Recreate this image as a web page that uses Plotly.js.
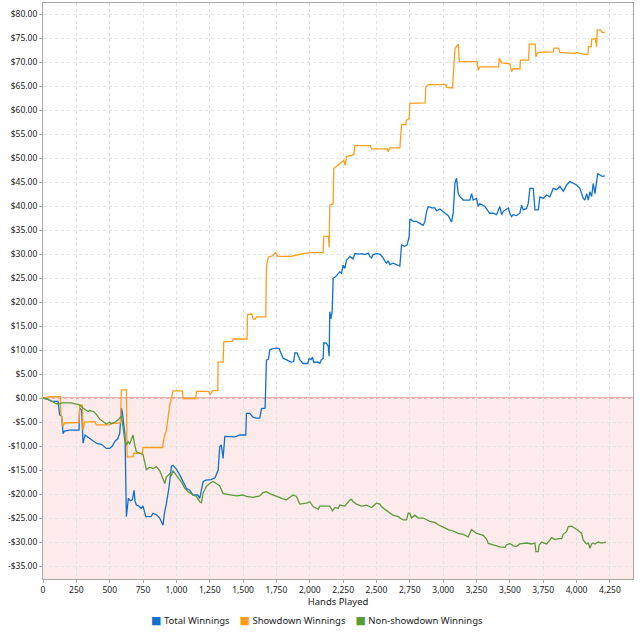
<!DOCTYPE html>
<html>
<head>
<meta charset="utf-8">
<script src="https://cdn.plot.ly/plotly-3.0.1.min.js"></script>
<style>
  html, body { margin: 0; padding: 0; background: #fff; }
  #chart { width: 640px; height: 637px; }
</style>
</head>
<body>
<div id="chart"></div>
<script>
// values (hands played -> cumulative $)
const seriesNames = ['Total Winnings', 'Showdown Winnings', 'Non-showdown Winnings']
const seriesColors = ['#1070d0', '#ff9e1b', '#5b9a3b']

const totalHands = [0,30,63,113,125,140,150,160,200,270,275,290,300,315,330,360,400,440,475,500,520,540,560,575,588,595,605,615,625,640,655,670,683,690,700,720,735,750,770,810,825,850,875,900,910,925,945,955,963,975,1000,1025,1050,1075,1100,1125,1160,1175,1200,1220,1260,1290,1313,1325,1337,1350,1363,1400,1440,1475,1520,1525,1550,1575,1600,1625,1638,1665,1675,1690,1700,1720,1750,1770,1800,1830,1860,1880,1888,1905,1925,1950,1985,1995,2010,2020,2030,2060,2075,2085,2100,2105,2125,2138,2145,2150,2158,2168,2175,2190,2213,2225,2238,2250,2263,2275,2288,2300,2325,2338,2363,2388,2413,2438,2450,2463,2475,2500,2525,2550,2563,2575,2588,2600,2625,2650,2675,2688,2710,2730,2745,2750,2760,2775,2800,2825,2850,2862,2875,2888,2913,2938,2950,2975,3000,3038,3063,3075,3088,3100,3113,3125,3150,3200,3213,3225,3250,3263,3275,3313,3338,3350,3375,3400,3425,3438,3450,3475,3488,3500,3513,3525,3550,3575,3588,3600,3625,3638,3650,3675,3688,3713,3725,3750,3775,3800,3825,3850,3875,3900,3925,3950,3975,4000,4025,4038,4050,4063,4075,4088,4100,4113,4125,4138,4150,4158,4175,4190,4213]
const totalWin = [0,-0.2,-0.7,-0.7,-3.5,-3.8,-7.4,-6.9,-6.7,-6.7,-2.1,-2.5,-9.4,-7.7,-8,-8.6,-9.4,-9.7,-10.5,-10.5,-10,-9,-8.5,-7.4,-2.1,-3,-6.3,-7.8,-24.7,-20.9,-21.4,-21.2,-19.2,-21.5,-22.3,-22.5,-23,-22.5,-24.7,-24.7,-24,-24.3,-25,-26.5,-24,-22,-18.5,-16.5,-14.2,-14,-14.8,-16,-17.3,-18.8,-19.2,-20.2,-20.2,-20.9,-17.4,-17.1,-17,-16.6,-15,-10.1,-9.8,-12.6,-8,-8.1,-8.1,-7.7,-7.7,-3.2,-3.2,-4,-4.2,-4.2,-2.2,-2.1,7.9,8.1,10,10.3,10.4,10.3,8.3,7.9,7.5,7.6,9.4,9.4,8,7.2,7.2,8.2,8,8.5,7.4,7.5,7.2,7.9,8.3,11.5,11.4,10.8,8.7,18,16.5,18,24.9,25.2,26,26.3,26,27.7,27,28.75,29.1,29.5,29,30.1,30,30.1,29.9,30.2,29.5,29.2,29.9,30.1,30,29.2,28.5,28.1,28.6,27.8,28.1,27.8,27.5,31.9,31.6,31.9,33.6,37.2,37.2,36.8,36.8,36.4,36,36.7,38.8,39.9,39.6,39.6,39,39.4,38.8,38,36.7,38.5,44.7,45.8,42.6,42,41.25,41.25,42.6,41.25,41.6,39.9,40.5,39.9,38.9,38.5,38.5,38.2,39.9,38.2,38.9,39.3,39.6,38.5,37.8,38.2,38,38.5,40.2,39.2,39.5,40.6,43.7,43.7,39.2,39.2,41.9,41.6,42.3,41.9,43.7,43.4,44.1,43.1,44.4,45.1,44.7,44.4,43.7,42.6,41.6,41.25,42.6,41.25,43,42,44.7,42.6,44.7,46.7,46.5,46.2,46.3]

const showdownHands = [0,50,130,133,150,160,270,275,295,300,310,390,400,500,510,580,588,625,630,675,680,745,750,895,910,925,950,975,1045,1050,1145,1150,1240,1255,1270,1310,1313,1350,1355,1420,1425,1530,1533,1565,1575,1590,1600,1670,1675,1690,1720,1745,1760,1860,1900,2000,2100,2105,2140,2145,2150,2175,2180,2210,2240,2255,2265,2275,2330,2338,2455,2463,2580,2588,2600,2675,2688,2720,2725,2745,2750,2865,2870,2890,3020,3025,3070,3075,3088,3113,3120,3255,3263,3275,3415,3420,3440,3500,3513,3525,3575,3580,3640,3645,3690,3695,3710,3825,3830,3865,3875,3985,4000,4060,4085,4088,4110,4113,4140,4150,4155,4180,4190,4213]
const showdownWin = [0,0.3,0.3,-2.8,-6,-5.2,-5.1,-1.5,-1.5,-6.7,-5,-4.9,-5.6,-5.6,-5.3,-5.2,1.7,1.7,-12.3,-12.2,-11.5,-11.5,-10.3,-10.3,-8,-6.7,-1.5,1.5,1.5,-0.1,-0.1,1.4,1.4,0.8,1.5,1.6,7.5,7.5,11.7,11.8,12.3,12.3,17.4,17.5,16.5,16.4,16.9,16.9,27.4,29.4,29.6,30.3,29.5,29.5,29.8,30.3,30.3,33.7,33.7,31.4,40.2,40.5,47.8,48.5,49,49.5,48.5,50.3,50.7,52.6,52.6,51.9,51.9,51.3,52.1,52.1,56.9,57,57.9,58.2,61.4,61.5,64.9,65.3,65.3,64.7,64.6,66.4,72.8,73.75,70.1,70.1,68.3,69,69,70.8,69.8,69.6,68,68.6,68.6,70.4,70.4,73.75,73.75,71.1,72,72.1,72.9,72.9,72,71.8,72,71.6,71.6,73.2,73.2,74.7,74.9,73.2,76.7,76.7,76.2,76.2]

const nonSdHands = [0,40,75,100,125,140,210,240,275,300,320,338,350,380,400,425,450,475,500,510,540,563,588,600,613,625,638,650,663,675,688,700,725,750,775,800,825,850,875,900,913,925,950,963,975,1000,1038,1063,1088,1125,1150,1175,1188,1200,1213,1225,1250,1275,1300,1325,1350,1400,1450,1500,1525,1575,1625,1650,1675,1700,1750,1800,1825,1875,1900,1925,1975,2000,2025,2063,2075,2150,2170,2190,2213,2225,2263,2300,2313,2325,2350,2388,2425,2463,2475,2500,2525,2538,2563,2600,2625,2663,2700,2725,2738,2750,2763,2788,2813,2850,2875,2900,2938,2963,3000,3038,3075,3113,3150,3188,3213,3225,3250,3275,3300,3325,3338,3375,3425,3463,3475,3500,3525,3550,3575,3625,3663,3688,3695,3713,3720,3738,3775,3800,3813,3838,3863,3888,3900,3925,3938,3963,3988,4013,4038,4050,4075,4088,4100,4113,4125,4138,4163,4188,4220]
const nonSdWin = [0,-0.3,-0.8,-1.2,-1.2,-1,-1,-1.2,-1.4,-2.1,-2.4,-2.8,-2.6,-2.8,-3.4,-4.4,-4.9,-5.4,-5,-5.4,-5,-4.6,-3.7,-6.2,-8.75,-9.8,-9.1,-9.5,-8.4,-7.7,-9.8,-11.2,-11.5,-11.8,-14.9,-14.4,-14.7,-14.3,-15.1,-17.1,-17.8,-16.4,-15.8,-16.1,-15.1,-16.1,-17.5,-18.8,-19.5,-20.2,-20.5,-21.6,-21.8,-19.8,-19,-18.4,-17.8,-17.4,-17.8,-18.3,-19.9,-20.2,-20.4,-20.2,-20.5,-20.7,-20.4,-19.7,-19.5,-19.9,-20.5,-21,-21.2,-20.2,-20.5,-22.1,-21.9,-21.6,-22.6,-23.2,-22.5,-22.5,-23.5,-22.8,-23,-22.3,-22.5,-21.25,-21.1,-21.6,-22.1,-22.5,-22.3,-22.8,-22.5,-21.9,-22.1,-22.6,-23.2,-23.9,-24.4,-24.7,-25.4,-25.4,-24,-24,-25,-24.4,-25,-25,-25.4,-25.7,-25.9,-26.4,-26.9,-27.4,-27.7,-28.2,-28.4,-28.9,-27.4,-27.7,-28.2,-28.4,-28.6,-29.4,-30.3,-30.6,-31,-31.1,-30.6,-30.3,-30.8,-30.9,-30.4,-30.2,-30.4,-30.2,-32,-32,-30.6,-30,-30.4,-29.6,-29.1,-29.5,-29.3,-29.3,-28.4,-27.85,-26.8,-26.7,-27.1,-27.6,-28.2,-29.6,-30.4,-30.2,-31.3,-30.4,-30.2,-30.4,-30,-30.2,-30]

const yTickVals = [-35,-30,-25,-20,-15,-10,-5,0,5,10,15,20,25,30,35,40,45,50,55,60,65,70,75,80]
const xTickVals = [0,250,500,750,1000,1250,1500,1750,2000,2250,2500,2750,3000,3250,3500,3750,4000,4250]
const yRange = [-37.7, 82.3]
const xRange = [0, 4423]

const FONT = 'Noto Sans, DejaVu Sans, sans-serif'

function money(v) {
    return (v < 0 ? '-$' : '$') + Math.abs(v).toFixed(2)
}

const allX = [totalHands, showdownHands, nonSdHands]
const allY = [totalWin, showdownWin, nonSdWin]

let data = []
for (let i = 0; i < 3; i++) {
    data.push({
        x: allX[i], y: allY[i],
        name: seriesNames[i],
        type: 'scatter', mode: 'lines',
        line: { color: seriesColors[i], width: 1.3 },
        showlegend: false,
        hoverinfo: 'skip'
    })
}

// legend row: coloured square + name, kept tight like the original
const legendText = seriesNames.map((name, i) =>
    '<span style="color:' + seriesColors[i] + ';font-size:11px;font-family:DejaVu Sans">\u25A0</span> ' + name
).join('\u00a0\u00a0\u00a0\u00a0')

const axisCommon = {
    showline: true, linecolor: '#a8a8a8', linewidth: 1, mirror: true,
    gridcolor: '#e2e2e2', griddash: 'dot', gridwidth: 1,
    ticks: 'outside', ticklen: 3, tickcolor: '#a8a8a8',
    zeroline: false,
    tickfont: { family: FONT, size: 8.5, color: '#222' }
}

const layout = {
    width: 640, height: 637,
    margin: { l: 43, r: 7, t: 3, b: 58 },
    paper_bgcolor: '#fff', plot_bgcolor: '#fff',
    font: { family: FONT, color: '#222' },
    showlegend: false,
    xaxis: Object.assign({}, axisCommon, {
        range: xRange,
        tickvals: xTickVals,
        tickformat: ',d',
        title: { text: 'Hands Played', font: { family: FONT, size: 9.5, color: '#222' }, standoff: 4 }
    }),
    yaxis: Object.assign({}, axisCommon, {
        range: yRange,
        tickvals: yTickVals,
        ticktext: yTickVals.map(money)
    }),
    shapes: [
        { type: 'rect', layer: 'below', xref: 'paper', x0: 0, x1: 1, yref: 'y', y0: yRange[0], y1: 0,
          fillcolor: '#fdeaea', line: { width: 0 } },
        { type: 'line', layer: 'between', xref: 'paper', x0: 0, x1: 1, yref: 'y', y0: 0, y1: 0,
          line: { color: '#e89a9a', width: 1.5 } }
    ],
    annotations: [
        { xref: 'paper', yref: 'paper', x: 0.4636, y: -0.0712, xanchor: 'center', yanchor: 'middle',
          showarrow: false, text: legendText, font: { family: FONT, size: 9.5, color: '#222' } }
    ],
    hovermode: false
}

Plotly.newPlot('chart', data, layout, { staticPlot: true, displayModeBar: false })
</script>
</body>
</html>
